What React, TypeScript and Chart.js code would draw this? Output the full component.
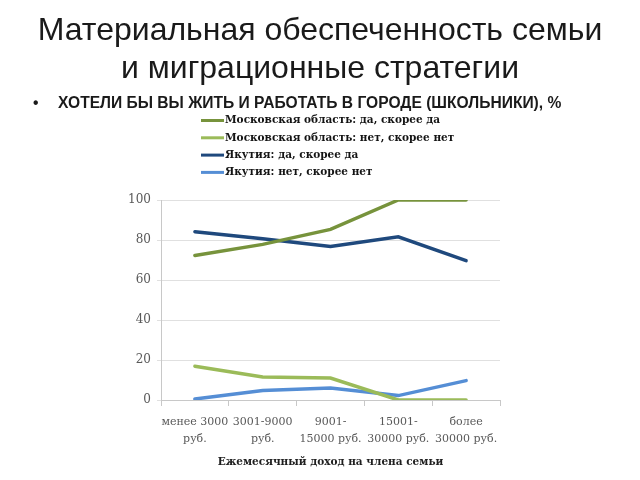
import React, { useEffect, useRef } from "react";
import { Chart, registerables } from "chart.js";

Chart.register(...registerables);

const categories: string[][] = [
  ["менее 3000", "руб."],
  ["3001-9000", "руб."],
  ["9001-", "15000 руб."],
  ["15001-", "30000 руб."],
  ["более", "30000 руб."],
];

const moscowYes = [72.3, 77.8, 85.3, 100, 100];
const moscowNo = [16.9, 11.5, 11.0, 0, 0];
const yakutiaYes = [84.1, 80.6, 76.8, 81.6, 69.7];
const yakutiaNo = [0.5, 4.7, 6.0, 2.2, 9.7];

const seriesLabels = [
  "Московская область: да, скорее да",
  "Московская область: нет, скорее нет",
  "Якутия: да, скорее да",
  "Якутия: нет, скорее нет",
];

const seriesColors = ["#77933C", "#9BBB59", "#1F497D", "#558ED5"];

const titleLines = ["Материальная обеспеченность семьи", "и миграционные стратегии"];
const bulletText = "ХОТЕЛИ БЫ ВЫ ЖИТЬ И РАБОТАТЬ В ГОРОДЕ (ШКОЛЬНИКИ), %";
const xAxisTitle = "Ежемесячный доход на члена семьи";

const legendPlugin = {
  id: "customLegend",
  afterDraw(chart: any) {
    const ctx = chart.ctx;
    ctx.save();
    chart.data.datasets.forEach((ds: any, i: number) => {
      const y = 120.5 + i * 17.3;
      ctx.strokeStyle = ds.borderColor;
      ctx.lineWidth = 3;
      ctx.beginPath();
      ctx.moveTo(201, y);
      ctx.lineTo(224, y);
      ctx.stroke();
      ctx.fillStyle = "#141414";
      ctx.font = 'bold 10.5px "DejaVu Serif"';
      ctx.textBaseline = "middle";
      ctx.textAlign = "left";
      ctx.fillText(ds.label, 225, y);
    });
    ctx.restore();
  },
};

export default function App() {
  const ref = useRef<HTMLCanvasElement | null>(null);
  useEffect(() => {
    if (!ref.current) return;
    const data = [moscowYes, moscowNo, yakutiaYes, yakutiaNo];
    const chart = new Chart(ref.current, {
      type: "line",
      data: {
        labels: categories,
        datasets: data.map((d, i) => ({
          label: seriesLabels[i],
          data: d,
          borderColor: seriesColors[i],
          backgroundColor: seriesColors[i],
          borderWidth: 3.5,
          pointRadius: 0,
          tension: 0,
          borderCapStyle: "round" as const,
        })),
      },
      options: {
        animation: false,
        responsive: false,
        maintainAspectRatio: false,
        layout: { padding: { left: 100, right: 140, top: 200, bottom: 7 } },
        plugins: {
          legend: { display: false },
          tooltip: { enabled: false },
        },
        scales: {
          x: {
            offset: true,
            grid: {
              offset: true,
              drawOnChartArea: false,
              drawTicks: true,
              tickLength: 6,
              color: "#c8c8c8",
            },
            border: { color: "#c8c8c8" },
            ticks: {
              color: "#595959",
              font: { family: "DejaVu Serif", size: 11, lineHeight: 1.55 },
              maxRotation: 0,
              autoSkip: false,
              padding: 8,
            },
            title: {
              display: true,
              text: xAxisTitle,
              color: "#1f1f1f",
              font: { family: "DejaVu Serif", size: 10.5, weight: "bold" },
              padding: { top: 8 },
            },
            afterFit(scale: any) {
              scale.height = 73;
            },
          },
          y: {
            min: 0,
            max: 100,
            ticks: {
              stepSize: 20,
              color: "#595959",
              font: { family: "DejaVu Serif", size: 12 },
              padding: 6,
            },
            grid: { color: "#e0e0e0", drawTicks: true, tickLength: 4 },
            border: { color: "#c8c8c8" },
            afterFit(scale: any) {
              scale.width = 61;
            },
          },
        },
      },
      plugins: [legendPlugin],
    });
    return () => chart.destroy();
  }, []);

  return (
    <div
      style={{
        position: "fixed",
        left: 0,
        top: 0,
        width: 640,
        height: 480,
        background: "#ffffff",
        overflow: "hidden",
      }}
    >
      <canvas ref={ref} width={640} height={480} style={{ position: "absolute", left: 0, top: 0 }} />
      <div
        style={{
          position: "absolute",
          left: 0,
          top: 10,
          width: 640,
          textAlign: "center",
          fontFamily: '"Liberation Sans", Arial, sans-serif',
          fontSize: 32,
          lineHeight: "38px",
          color: "#1a1a1a",
        }}
      >
        {titleLines.map((t) => (
          <div key={t}>{t}</div>
        ))}
      </div>
      <div
        style={{
          position: "absolute",
          left: 33,
          top: 94,
          fontFamily: '"Liberation Sans", Arial, sans-serif',
          fontSize: 15.6,
          fontWeight: "bold",
          color: "#1a1a1a",
          whiteSpace: "nowrap",
        }}
      >
        <span style={{ display: "inline-block", width: 25 }}>•</span>
        {bulletText}
      </div>
    </div>
  );
}
